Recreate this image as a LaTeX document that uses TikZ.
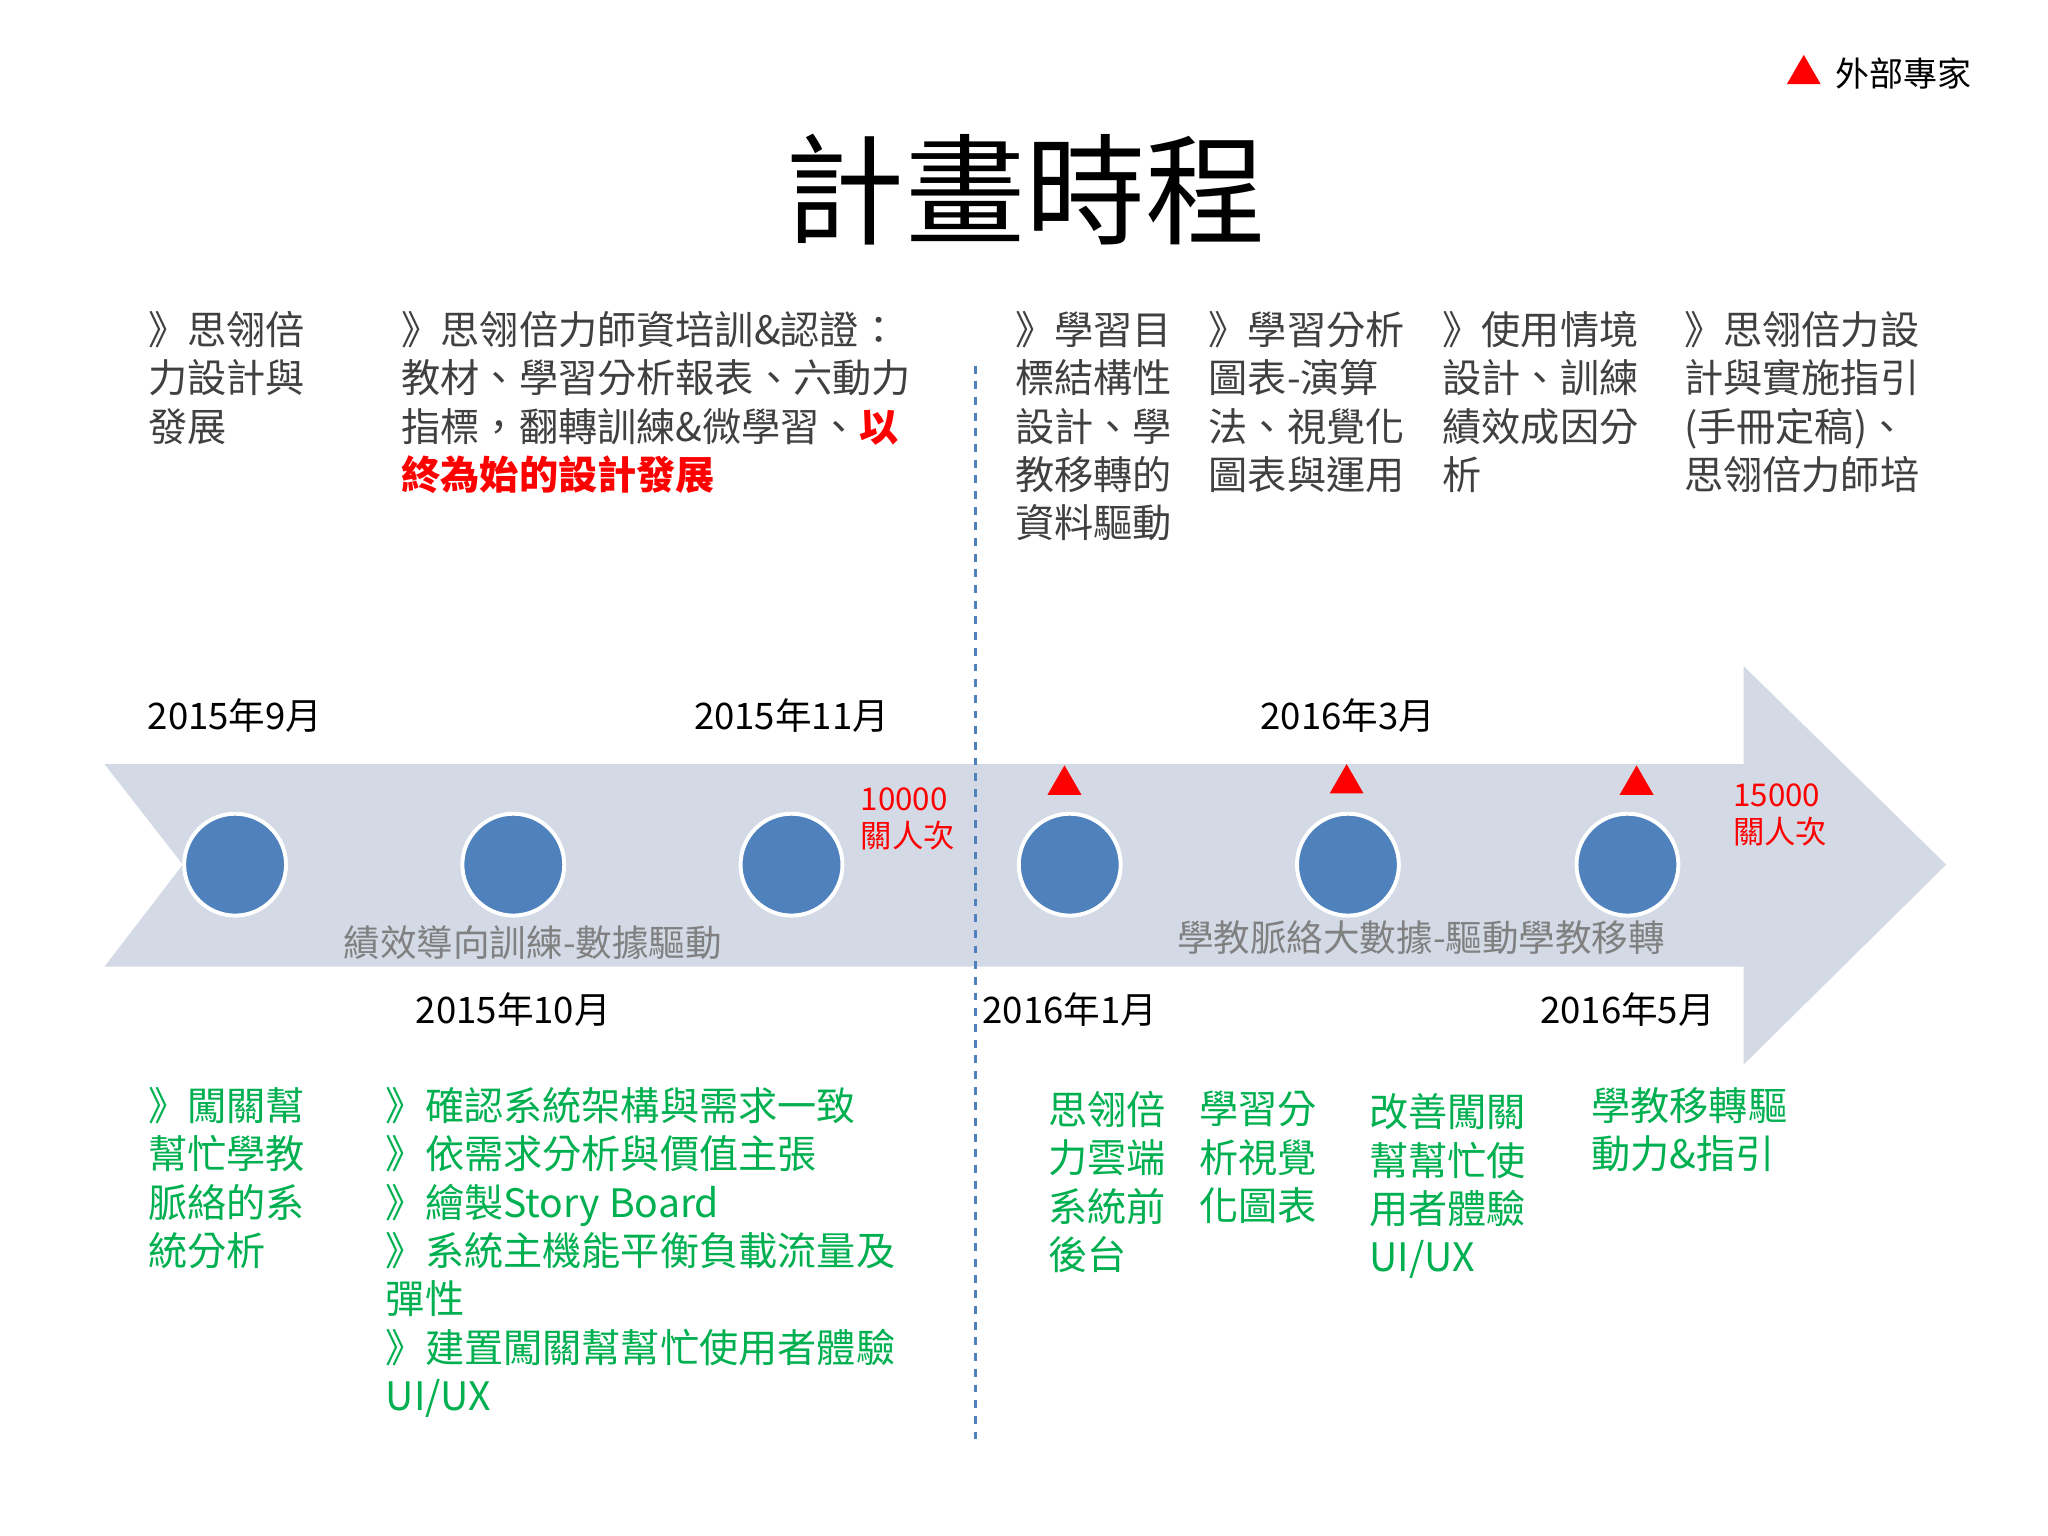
\documentclass[tikz,border=0pt]{standalone}
\usepackage{fontspec}
\setmainfont{Noto Sans CJK TC}
\usetikzlibrary{shapes.geometric}
\definecolor{arrowc}{HTML}{D3DAE6}
\definecolor{dotc}{HTML}{4F81BD}
\definecolor{txt}{HTML}{404040}
\definecolor{grn}{HTML}{00B050}
\definecolor{gry}{HTML}{808080}
\begin{document}
\begin{tikzpicture}[x=0.5pt,y=-0.5pt,
  top/.style={anchor=north west,align=left,inner sep=0pt,text=txt,font=\fontsize{15}{18.5}\selectfont},
  bot/.style={anchor=north west,align=left,inner sep=0pt,text=grn,font=\fontsize{15}{18.5}\selectfont},
  date/.style={inner sep=0pt,text=black,font=\fontsize{14}{16}\selectfont},
  cnt/.style={inner sep=0pt,align=left,text=red,font=\fontsize{12}{14}\selectfont},
  dot/.style={circle,fill=dotc,draw=white,line width=1.5pt,minimum size=39pt,inner sep=0pt},
  tri/.style={isosceles triangle,isosceles triangle apex angle=60,shape border rotate=90,fill=red,inner sep=0pt,minimum height=11pt,minimum width=13pt},
  band/.style={inner sep=0pt,text=gry,font=\fontsize{14}{16}\selectfont}]
\useasboundingbox (0,0) rectangle (1568,1176);
\fill[white] (0,0) rectangle (1568,1176);
\node[inner sep=0pt,font=\fontsize{46}{50}\selectfont] (title) at (785,145) {計畫時程};
\node[tri] (lt) at (1381,57) {};
\node[anchor=west,inner sep=0pt,font=\fontsize{13}{15}\selectfont] (lg) at (1405,56) {外部專家};
\fill[arrowc] (80,585) -- (1335,585) -- (1335,510) -- (1490,662) -- (1335,815) -- (1335,740) -- (80,740) -- (140,662) -- cycle;
\coordinate (dt) at (747,280); \coordinate (db) at (747,1105);
\draw[dotc,dashed,line width=1pt] (dt) -- (db);
\foreach \i/\x in {1/180,2/393,3/606,4/819,5/1032,6/1246} \node[dot] (c\i) at (\x,662) {};
\node[tri] (t4) at (815,601) {};
\node[tri] (t5) at (1031,600) {};
\node[tri] (t6) at (1253,601) {};
\node[date] (d1) at (180,548) {2015年9月};
\node[date] (d3) at (606,548) {2015年11月};
\node[date] (d5) at (1032,548) {2016年3月};
\node[date] (d2) at (393,773) {2015年10月};
\node[date] (d4) at (819,773) {2016年1月};
\node[date] (d6) at (1246,773) {2016年5月};
\node[cnt] (n1) at (695,627) {10000\\關人次};
\node[cnt] (n2) at (1363,624) {15000\\關人次};
\node[band] (b1) at (408,722) {績效導向訓練-數據驅動};
\node[band] (b2) at (1088,718) {學教脈絡大數據-驅動學教移轉};
\node[top] (p1) at (113,238) {》思翎倍\\力設計與\\發展};
\node[top] (p2) at (307,238) {》思翎倍力師資培訓\&認證：\\教材、學習分析報表、六動力\\指標，翻轉訓練\&微學習、{\color{red}\bfseries 以}\\{\color{red}\bfseries 終為始的設計發展}};
\node[top] (p3) at (777,238) {》學習目\\標結構性\\設計、學\\教移轉的\\資料驅動};
\node[top] (p4) at (925,238) {》學習分析\\圖表-演算\\法、視覺化\\圖表與運用};
\node[top] (p5) at (1104,238) {》使用情境\\設計、訓練\\績效成因分\\析};
\node[top] (p6) at (1289,238) {》思翎倍力設\\計與實施指引\\(手冊定稿)、\\思翎倍力師培};
\node[bot] (q1) at (113,832) {》闖關幫\\幫忙學教\\脈絡的系\\統分析};
\node[bot] (q2) at (295,832) {》確認系統架構與需求一致\\》依需求分析與價值主張\\》繪製Story Board\\》系統主機能平衡負載流量及\\彈性\\》建置闖關幫幫忙使用者體驗\\UI/UX};
\node[bot] (q3) at (802,835) {思翎倍\\力雲端\\系統前\\後台};
\node[bot] (q4) at (918,835) {學習分\\析視覺\\化圖表};
\node[bot] (q5) at (1048,837) {改善闖關\\幫幫忙使\\用者體驗\\UI/UX};
\node[bot] (q6) at (1218,832) {學教移轉驅\\動力\&指引};
\end{tikzpicture}
\end{document}
